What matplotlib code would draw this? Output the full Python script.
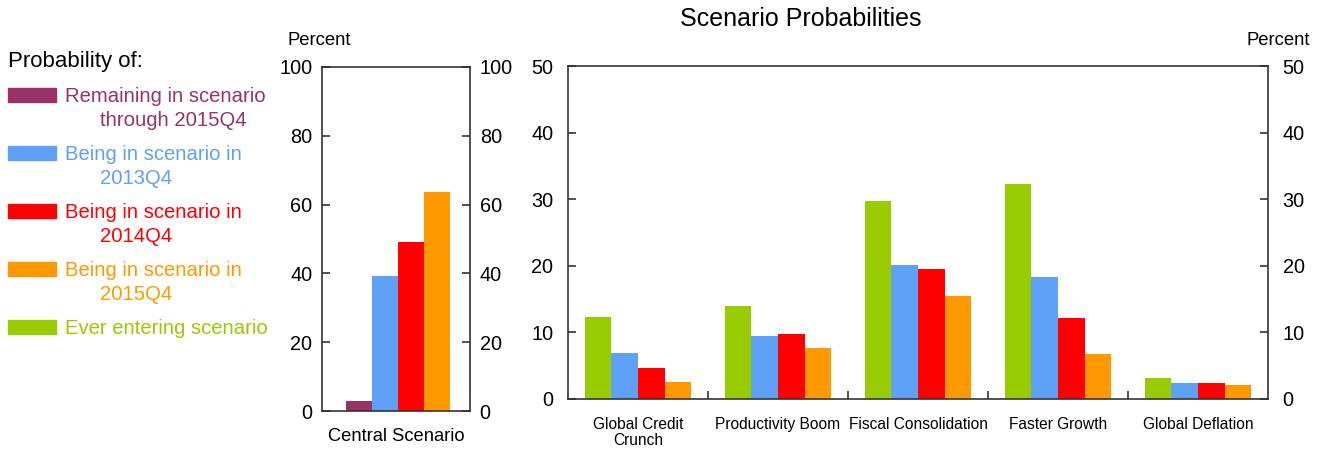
import matplotlib
matplotlib.use('Agg')
import numpy as np
from matplotlib import pyplot as plt
from matplotlib.patches import Rectangle

plt.rcParams['font.family'] = ['Liberation Sans', 'DejaVu Sans']

# legend entries (label lines) and colours
series = ['Remaining in scenario through 2015Q4', 'Being in scenario in 2013Q4',
          'Being in scenario in 2014Q4', 'Being in scenario in 2015Q4',
          'Ever entering scenario']
legend_lines = [('Remaining in scenario', 'through 2015Q4'),
                ('Being in scenario in', '2013Q4'),
                ('Being in scenario in', '2014Q4'),
                ('Being in scenario in', '2015Q4'),
                ('Ever entering scenario', '')]
colors = ['#993366', '#5ea1f7', '#ff0000', '#ff9900', '#99cc00']

# central scenario panel
central_label = 'Central Scenario'
central_vals = [2.9, 39.2, 49.1, 63.8]   # remaining, 2013Q4, 2014Q4, 2015Q4

# other scenarios panel
scenarios = ['Global Credit\nCrunch', 'Productivity Boom', 'Fiscal Consolidation',
             'Faster Growth', 'Global Deflation']
ever_entering = [12.3, 14.0, 29.7, 32.3, 3.15]
in_2013q4 = [6.9, 9.5, 20.1, 18.3, 2.4]
in_2014q4 = [4.65, 9.75, 19.5, 12.2, 2.4]
in_2015q4 = [2.55, 7.7, 15.5, 6.8, 2.1]

spine_col = '#333333'

fig = plt.figure(figsize=(13.25, 4.49), dpi=100)


def style(ax):
    for s in ax.spines.values():
        s.set_color(spine_col)
        s.set_linewidth(1.2)
    ax.tick_params(axis='y', direction='in', length=6, width=1.2, color=spine_col,
                   left=True, right=True, labelleft=True, labelright=True,
                   labelsize=14.3, pad=10.5)


# left panel
ax1 = fig.add_axes([0.2430, 0.0846, 0.1117, 0.7662])
w1 = 0.175
x1 = (np.arange(4) - 1.5) * w1 + 0.012
ax1.bar(x1, central_vals, width=w1, color=colors[:4])
ax1.set_xlim(-0.5, 0.5)
ax1.set_ylim(0, 100)
ax1.set_yticks([0, 20, 40, 60, 80, 100])
ax1.set_xticks([0])
ax1.set_xticklabels([central_label], fontsize=13.2)
ax1.tick_params(axis='x', length=0, pad=12)
style(ax1)
ax1.tick_params(axis='y', pad=7)

# right panel
ax2 = fig.add_axes([0.4287, 0.1114, 0.5283, 0.7416])
w2 = 0.19
x = np.arange(len(scenarios))
for i, (vals, c) in enumerate(zip([ever_entering, in_2013q4, in_2014q4, in_2015q4],
                                  [colors[4], colors[1], colors[2], colors[3]])):
    ax2.bar(x + (i - 1.5) * w2, vals, width=w2, color=c)
ax2.set_xlim(-0.5, len(scenarios) - 0.5)
ax2.set_ylim(0, 50)
ax2.set_yticks([0, 10, 20, 30, 40, 50])
ax2.set_xticks(x)
ax2.set_xticklabels(scenarios, fontsize=11.2, linespacing=1.05, va='top')
ax2.set_xticks(x[:-1] + 0.5, minor=True)
ax2.tick_params(axis='x', which='major', length=0, pad=13)
ax2.tick_params(axis='x', which='minor', direction='in', length=6, width=1.2,
                color=spine_col)
style(ax2)

# titles and units
fig.text(0.604, 0.958, 'Scenario Probabilities', ha='center', va='center', fontsize=18)
fig.text(0.241, 0.91, 'Percent', ha='center', va='center', fontsize=13.3)
fig.text(0.965, 0.91, 'Percent', ha='center', va='center', fontsize=13.3)

# legend
fig.text(8 / 1325, 1 - 61 / 449, 'Probability of:', ha='left', va='center', fontsize=16)
for k, ((l1, l2), c) in enumerate(zip(legend_lines, colors)):
    yc = 95 + 58 * k
    fig.patches.append(Rectangle((8 / 1325, 1 - (yc + 7) / 449), 48 / 1325, 14 / 449,
                                 transform=fig.transFigure, color=c))
    fig.text(65 / 1325, 1 - (yc + 2) / 449, l1, color=c, ha='left', va='center',
             fontsize=14.6)
    if l2:
        fig.text(100 / 1325, 1 - (yc + 25) / 449, l2, color=c, ha='left', va='center',
                 fontsize=14.6)

plt.savefig('out.png', dpi=100)
